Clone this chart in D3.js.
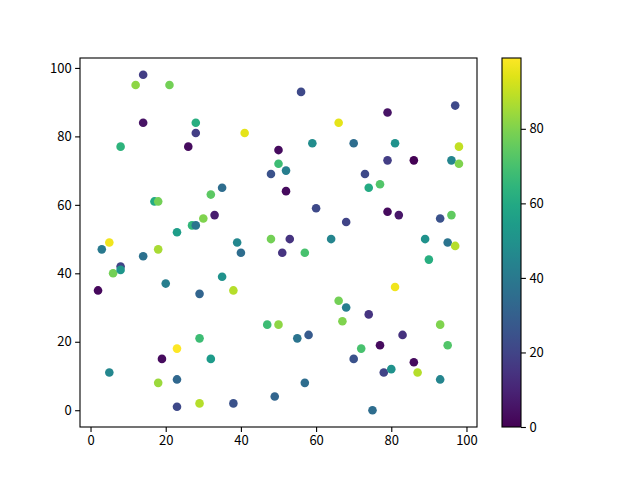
<!DOCTYPE html>
<html>
<head>
<meta charset="utf-8">
<script src="https://cdn.jsdelivr.net/npm/d3@7"></script>
<style>
  body { margin: 0; background: #fff; }
  .tick text { font-family: "Noto Sans CJK SC", "DejaVu Sans", sans-serif; font-size: 13px; fill: #000; }
</style>
</head>
<body>
<div id="chart"></div>
<script>
// scatter points: x, y and colour value
const xs = [2, 3, 5, 5, 6, 8, 8, 8, 12, 14, 14, 14, 17, 18, 18, 18, 19, 20, 21, 23,
            23, 23, 23, 26, 27, 28, 28, 28, 29, 29, 29, 30, 32, 32, 33, 35, 35, 38, 38, 39,
            40, 41, 47, 48, 48, 49, 50, 50, 50, 51, 52, 52, 53, 55, 56, 57, 57, 58, 59, 60,
            64, 66, 66, 67, 68, 68, 70, 70, 72, 73, 74, 74, 75, 77, 77, 78, 79, 79, 79, 80,
            81, 81, 82, 83, 86, 86, 87, 89, 90, 93, 93, 93, 95, 95, 96, 96, 97, 97, 98, 98]
const ys = [35, 47, 49, 11, 40, 42, 41, 77, 95, 98, 84, 45, 61, 61, 47, 8, 15, 37, 95, 52,
            18, 9, 1, 77, 54, 54, 84, 81, 34, 21, 2, 56, 63, 15, 57, 65, 39, 35, 2, 49,
            46, 81, 25, 69, 50, 4, 76, 72, 25, 46, 70, 64, 50, 21, 93, 46, 8, 22, 78, 59,
            50, 84, 32, 26, 55, 30, 78, 15, 18, 69, 65, 28, 0, 66, 19, 11, 87, 73, 58, 12,
            78, 36, 57, 22, 73, 14, 11, 50, 44, 56, 25, 9, 49, 19, 73, 57, 89, 48, 77, 72]
const cs = [2, 40, 97, 46, 78, 20, 52, 64, 82, 18, 5, 37, 60, 78, 86, 84, 3, 42, 78, 55,
            99, 33, 22, 3, 65, 38, 62, 18, 32, 68, 88, 80, 74, 54, 8, 35, 50, 88, 25, 46,
            35, 95, 68, 25, 78, 32, 3, 68, 82, 15, 42, 3, 15, 38, 22, 70, 35, 28, 48, 22,
            45, 95, 78, 80, 20, 42, 35, 25, 70, 22, 60, 15, 35, 72, 3, 20, 5, 18, 3, 50,
            50, 97, 6, 14, 0, 3, 88, 50, 62, 25, 80, 45, 38, 72, 45, 75, 22, 88, 90, 80]
const xTicks = [0, 20, 40, 60, 80, 100]
const yTicks = [0, 20, 40, 60, 80, 100]
const cTicks = [0, 20, 40, 60, 80]

const W = 640, H = 480
const axLeft = 80, axRight = 477, axTop = 58, axBottom = 427
const cbLeft = 502, cbRight = 521

const data = xs.map((x, i) => ({x: x, y: ys[i], c: cs[i]}))

function padded(ext) {
    let m = (ext[1] - ext[0]) * 0.05
    return [ext[0] - m, ext[1] + m]
}

const xScale = d3.scaleLinear().domain(padded(d3.extent(xs))).range([axLeft, axRight])
const yScale = d3.scaleLinear().domain(padded(d3.extent(ys))).range([axBottom, axTop])
const cExt = d3.extent(cs)
const color = d3.scaleSequential(d3.interpolateViridis).domain(cExt)

const svg = d3.select('#chart').append('svg')
    .attr('width', W).attr('height', H)

svg.append('g')
    .selectAll('circle')
    .data(data)
    .enter()
    .append('circle')
    .attr('cx', d => xScale(d.x))
    .attr('cy', d => yScale(d.y))
    .attr('r', 4.3)
    .attr('fill', d => color(d.c))

// axes
let gx = svg.append('g')
    .attr('transform', 'translate(0,' + axBottom + ')')
    .call(d3.axisBottom(xScale).tickValues(xTicks).tickSize(4.9).tickPadding(3.5))
let gy = svg.append('g')
    .attr('transform', 'translate(' + axLeft + ',0)')
    .call(d3.axisLeft(yScale).tickValues(yTicks).tickSize(4.9).tickPadding(3.5))
;[gx, gy].forEach(g => {
    g.select('.domain').remove()
    g.selectAll('line').attr('stroke', '#000').attr('stroke-width', 1.1)
})

svg.append('rect')
    .attr('x', axLeft).attr('y', axTop)
    .attr('width', axRight - axLeft).attr('height', axBottom - axTop)
    .attr('fill', 'none').attr('stroke', '#000').attr('stroke-width', 1.1)

// colorbar
const defs = svg.append('defs')
const grad = defs.append('linearGradient')
    .attr('id', 'cbgrad')
    .attr('x1', 0).attr('y1', 1).attr('x2', 0).attr('y2', 0)
d3.range(0, 1.0001, 0.05).forEach(t => {
    grad.append('stop')
        .attr('offset', t)
        .attr('stop-color', d3.interpolateViridis(t))
})
svg.append('rect')
    .attr('x', cbLeft).attr('y', axTop)
    .attr('width', cbRight - cbLeft).attr('height', axBottom - axTop)
    .attr('fill', 'url(#cbgrad)')
    .attr('stroke', '#000').attr('stroke-width', 1.1)

const cScale = d3.scaleLinear().domain(cExt).range([axBottom, axTop])
let gc = svg.append('g')
    .attr('transform', 'translate(' + cbRight + ',0)')
    .call(d3.axisRight(cScale).tickValues(cTicks).tickSize(4.9).tickPadding(3.5))
gc.select('.domain').remove()
gc.selectAll('line').attr('stroke', '#000').attr('stroke-width', 1.1)
</script>
</body>
</html>
